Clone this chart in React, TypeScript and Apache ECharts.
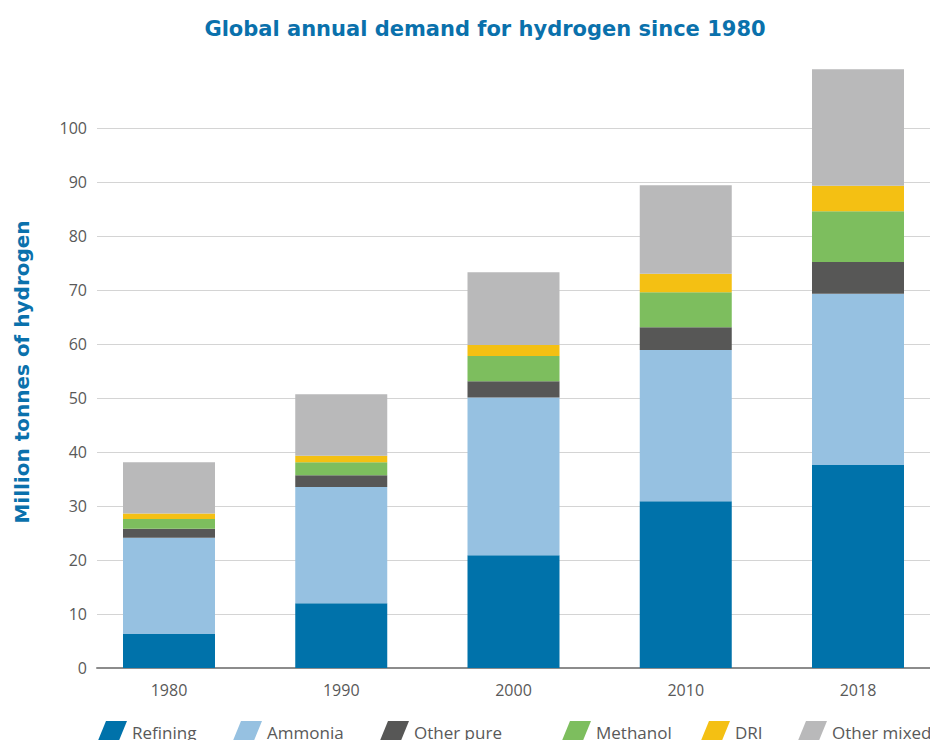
import React, { useEffect, useRef } from "react";
import * as echarts from "echarts";

const years = ["1980", "1990", "2000", "2010", "2018"];
const refining = [6.3, 12.0, 20.9, 30.9, 37.6];
const ammonia = [17.8, 21.5, 29.2, 28.0, 31.7];
const otherPure = [1.7, 2.2, 3.0, 4.2, 5.9];
const methanol = [1.8, 2.4, 4.7, 6.5, 9.4];
const dri = [1.0, 1.2, 2.0, 3.4, 4.7];
const otherMixed = [9.5, 11.4, 13.5, 16.4, 21.6];
const yTicks = [0, 100, 10];

const seriesNames = ["Refining", "Ammonia", "Other pure", "Methanol", "DRI", "Other mixed"];
const seriesData = [refining, ammonia, otherPure, methanol, dri, otherMixed];
const colors = ["#0072AA", "#96C1E1", "#575756", "#7DBE5E", "#F4C013", "#B9B9BA"];
const legendLeft = [97, 232, 379, 561, 700, 797];

const FONT = "'Open Sans', 'Noto Sans', sans-serif";
const TITLE_FONT = "'DejaVu Sans', sans-serif";
const ICON = "path://M9,0 L30,0 L21,22 L0,22 Z";

export default function App() {
  const ref = useRef<HTMLDivElement>(null);
  useEffect(() => {
    if (!ref.current) return;
    const chart = echarts.init(ref.current, undefined, { renderer: "svg" });
    chart.setOption({
      animation: false,
      backgroundColor: "#ffffff",
      title: {
        text: "Global annual demand for hydrogen since 1980",
        left: 480,
        textAlign: "center",
        top: 13,
        textStyle: { color: "#0A71AC", fontSize: 21, fontWeight: "bold", fontFamily: TITLE_FONT },
      },
      graphic: [
        {
          type: "text",
          x: 22,
          y: 372,
          rotation: Math.PI / 2,
          style: {
            text: "Million tonnes of hydrogen",
            fill: "#0A71AC",
            font: "bold 20px 'DejaVu Sans', sans-serif",
            textAlign: "center",
            textVerticalAlign: "middle",
          },
        },
      ],
      legend: seriesNames.map((n, i) => ({
        data: [n],
        left: legendLeft[i],
        top: 721,
        padding: 0,
        itemWidth: 30,
        itemHeight: 22,
        itemGap: 8,
        icon: ICON,
        textStyle: { color: "#595959", fontSize: 17, fontFamily: FONT },
        selectedMode: false,
      })),
      grid: [
        { left: 169, right: 72, top: 20, bottom: 72 },
        { left: 97, right: 0, top: 128, bottom: 72 },
      ],
      xAxis: [
        {
          type: "category",
          gridIndex: 0,
          data: years,
          boundaryGap: false,
          axisLine: { show: false },
          axisTick: { show: false },
          axisLabel: { color: "#595959", fontSize: 16, fontFamily: FONT, margin: 14 },
        },
        {
          type: "category",
          gridIndex: 1,
          data: years,
          axisLine: { show: true, lineStyle: { color: "#8c8c8c", width: 2 } },
          axisTick: { show: false },
          axisLabel: { show: false },
        },
      ],
      yAxis: [
        { type: "value", gridIndex: 0, min: 0, max: 120, show: false },
        {
          type: "value",
          gridIndex: 1,
          min: yTicks[0],
          max: yTicks[1],
          interval: yTicks[2],
          axisLine: { show: false },
          axisTick: { show: false },
          splitLine: { lineStyle: { color: "#d4d4d4", width: 1 } },
          axisLabel: { color: "#595959", fontSize: 16, fontFamily: FONT, margin: 10 },
        },
      ],
      series: seriesNames.map((n, i) => ({
        name: n,
        type: "bar",
        stack: "total",
        xAxisIndex: 0,
        yAxisIndex: 0,
        barWidth: 92,
        clip: false,
        itemStyle: { color: colors[i] },
        data: seriesData[i],
        z: 3,
      })),
    });
    return () => chart.dispose();
  }, []);
  return <div ref={ref} style={{ width: 930, height: 740, position: "absolute", left: 0, top: 0 }} />;
}
